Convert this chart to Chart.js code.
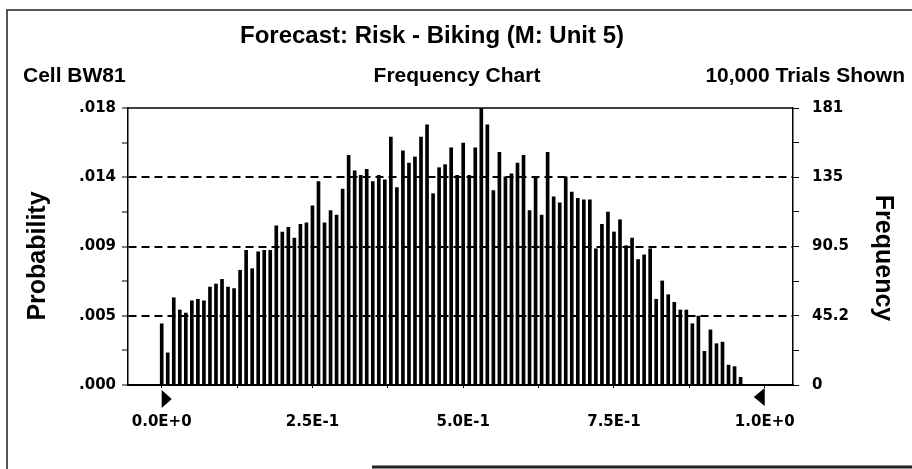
<!DOCTYPE html>
<html>
<head>
<meta charset="utf-8">
<script src="https://cdn.jsdelivr.net/npm/chart.js@4.4.1/dist/chart.umd.min.js"></script>
<style>
    html, body { margin: 0; padding: 0; background: #fff; }
</style>
</head>
<body>
<canvas id="forecast" width="912" height="469"></canvas>
<script>
// bins (start of each 0.01 group) and number of trials in each
var binStarts = [
    0.00, 0.01, 0.02, 0.03, 0.04, 0.05, 0.06, 0.07, 0.08, 0.09,
    0.10, 0.11, 0.12, 0.13, 0.14, 0.15, 0.16, 0.17, 0.18, 0.19,
    0.20, 0.21, 0.22, 0.23, 0.24, 0.25, 0.26, 0.27, 0.28, 0.29,
    0.30, 0.31, 0.32, 0.33, 0.34, 0.35, 0.36, 0.37, 0.38, 0.39,
    0.40, 0.41, 0.42, 0.43, 0.44, 0.45, 0.46, 0.47, 0.48, 0.49,
    0.50, 0.51, 0.52, 0.53, 0.54, 0.55, 0.56, 0.57, 0.58, 0.59,
    0.60, 0.61, 0.62, 0.63, 0.64, 0.65, 0.66, 0.67, 0.68, 0.69,
    0.70, 0.71, 0.72, 0.73, 0.74, 0.75, 0.76, 0.77, 0.78, 0.79,
    0.80, 0.81, 0.82, 0.83, 0.84, 0.85, 0.86, 0.87, 0.88, 0.89,
    0.90, 0.91, 0.92, 0.93, 0.94, 0.95, 0.96
];
var frequencies = [
    40, 21, 57, 49, 47, 55, 56, 55, 64, 66,
    69, 64, 63, 75, 88, 76, 87, 88, 88, 104,
    100, 103, 96, 105, 106, 117, 133, 106, 114, 111,
    128, 150, 140, 137, 141, 133, 137, 134, 162, 129,
    153, 145, 149, 162, 170, 125, 142, 144, 155, 137,
    158, 137, 155, 181, 170, 127, 152, 136, 138, 145,
    150, 114, 135, 111, 152, 123, 119, 136, 126, 122,
    121, 121, 89, 105, 113, 100, 108, 91, 96, 82,
    85, 89, 56, 68, 59, 54, 49, 49, 40, 45,
    22, 36, 27, 28, 13, 12, 5
];

var xTickValues = [0, 0.25, 0.5, 0.75, 1];
var xTickLabels = ['0.0E+0', '2.5E-1', '5.0E-1', '7.5E-1', '1.0E+0'];
var freqTickValues = [0, 45.25, 90.5, 135.75, 181];
var freqTickLabels = ['0', '45.2', '90.5', '135', '181'];
var probTickLabels = ['.000', '.005', '.009', '.014', '.018'];

var headerFont = 'bold 21px "Liberation Sans", Arial, sans-serif';

// majors plus a minor tick half way between each pair
function withMinors(values) {
    var out = [];
    for (var i = 0; i < values.length; i++) {
        out.push({value: values[i]});
        if (i < values.length - 1) out.push({value: (values[i] + values[i + 1]) / 2});
    }
    return out;
}

function labelFor(values, labels) {
    return function (value) {
        var i = values.indexOf(value);
        return i >= 0 ? labels[i] : '';
    };
}

var decor = {
    id: 'decor',
    afterDraw: function (chart) {
        var ctx = chart.ctx;
        var area = chart.chartArea;
        var x = chart.scales.x;
        ctx.save();

        // page frame
        ctx.strokeStyle = '#222';
        ctx.lineWidth = 1.5;
        ctx.beginPath();
        ctx.moveTo(7, 469); ctx.lineTo(7, 10); ctx.lineTo(912, 10);
        ctx.stroke();
        ctx.lineWidth = 3;
        ctx.beginPath();
        ctx.moveTo(372, 467); ctx.lineTo(912, 467);
        ctx.stroke();

        // top edge of the plot box
        ctx.strokeStyle = '#000';
        ctx.lineWidth = 1.5;
        ctx.beginPath();
        ctx.moveTo(area.left, area.top); ctx.lineTo(area.right, area.top);
        ctx.stroke();

        // certainty grabbers
        var lx = x.getPixelForValue(xTickValues[0]);
        var rx = x.getPixelForValue(xTickValues[xTickValues.length - 1]);
        ctx.fillStyle = '#000';
        ctx.beginPath();
        ctx.moveTo(lx, area.bottom + 5); ctx.lineTo(lx + 10, area.bottom + 14); ctx.lineTo(lx, area.bottom + 23);
        ctx.closePath(); ctx.fill();
        ctx.beginPath();
        ctx.moveTo(rx, area.bottom + 3); ctx.lineTo(rx - 11, area.bottom + 12); ctx.lineTo(rx, area.bottom + 21);
        ctx.closePath(); ctx.fill();

        // header
        ctx.textBaseline = 'middle';
        ctx.textAlign = 'center';
        ctx.font = 'bold 24px "Liberation Sans", Arial, sans-serif';
        ctx.fillText('Forecast: Risk - Biking (M: Unit 5)', 432, 36);
        ctx.font = headerFont;
        ctx.fillText('Frequency Chart', 457, 76);
        ctx.textAlign = 'left';
        ctx.fillText('Cell BW81', 23, 76);
        ctx.textAlign = 'right';
        ctx.fillText('10,000 Trials Shown', 905, 76);

        // axis titles
        ctx.font = 'bold 25px "Liberation Sans", Arial, sans-serif';
        ctx.textAlign = 'center';
        ctx.save();
        ctx.translate(38, 256);
        ctx.rotate(-Math.PI / 2);
        ctx.fillText('Probability', 0, 0);
        ctx.restore();
        ctx.save();
        ctx.translate(883, 258);
        ctx.rotate(Math.PI / 2);
        ctx.fillText('Frequency', 0, 0);
        ctx.restore();

        ctx.restore();
    }
};

Chart.defaults.font.family = '"DejaVu Sans", sans-serif';
Chart.defaults.font.weight = 'bold';
Chart.defaults.font.size = 15;
Chart.defaults.color = '#000';

var forecast = document.getElementById('forecast').getContext('2d');

new Chart(forecast, {
    type: 'bar',
    data: {
        datasets: [{
            label: 'Frequency',
            data: binStarts.map(function (b, i) { return {x: b, y: frequencies[i]}; }),
            backgroundColor: '#000',
            borderWidth: 0,
            barThickness: 3,
            yAxisID: 'y',
            xAxisID: 'x'
        }]
    },
    options: {
        responsive: false,
        devicePixelRatio: 1,
        animation: false,
        layout: {padding: {top: 108, left: 0, right: 0, bottom: 0}},
        plugins: {legend: {display: false}, tooltip: {enabled: false}},
        scales: {
            x: {
                type: 'linear',
                offset: false,
                min: -0.0559,
                max: 1.0469,
                afterBuildTicks: function (s) { s.ticks = withMinors(xTickValues); },
                afterFit: function (s) { s.height = 84; },
                ticks: {
                    autoSkip: false,
                    maxRotation: 0,
                    padding: 25,
                    callback: labelFor(xTickValues, xTickLabels)
                },
                grid: {drawOnChartArea: false, offset: false, tickLength: 3, color: '#000', lineWidth: 1},
                border: {color: '#000', width: 2}
            },
            y: {
                position: 'left',
                min: 0,
                max: 181,
                afterBuildTicks: function (s) { s.ticks = withMinors(freqTickValues); },
                afterFit: function (s) { s.width = 128; },
                ticks: {
                    autoSkip: false,
                    padding: 6,
                    callback: function (value) {
                        var i = freqTickValues.indexOf(value);
                        return i >= 0 ? probTickLabels[i] : '';
                    }
                },
                grid: {
                    color: function (c) {
                        var i = freqTickValues.indexOf(c.tick.value);
                        return (i > 0 && i < freqTickValues.length - 1) ? '#000' : 'rgba(0,0,0,0)';
                    },
                    lineWidth: 2,
                    tickColor: '#000',
                    tickWidth: 1,
                    tickLength: 6
                },
                border: {color: '#000', width: 1.5, dash: [8, 5]}
            },
            y2: {
                position: 'right',
                min: 0,
                max: 181,
                afterBuildTicks: function (s) { s.ticks = withMinors(freqTickValues); },
                afterFit: function (s) { s.width = 119; },
                ticks: {
                    autoSkip: false,
                    padding: 13,
                    callback: labelFor(freqTickValues, freqTickLabels)
                },
                grid: {drawOnChartArea: false, tickColor: '#000', tickWidth: 1, tickLength: 6},
                border: {color: '#000', width: 1.5}
            }
        }
    },
    plugins: [decor]
});
</script>
</body>
</html>
